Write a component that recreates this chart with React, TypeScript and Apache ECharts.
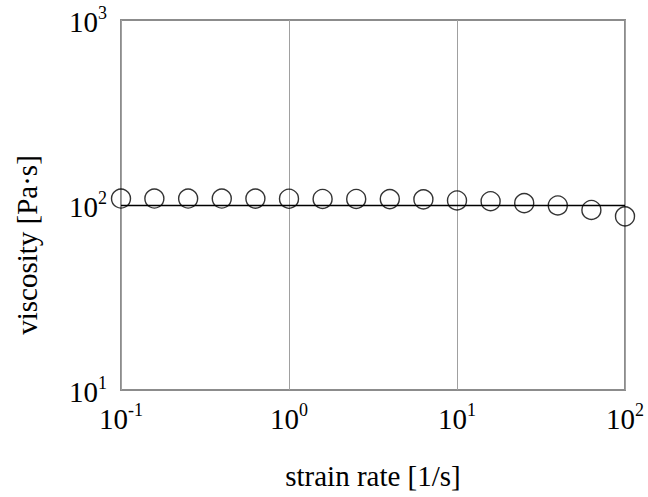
import React, { useEffect, useRef } from "react";
import * as echarts from "echarts";

// strain rate [1/s], five points per decade
const strainRate = [
  0.1, 0.158, 0.251, 0.398, 0.631, 1, 1.585, 2.512, 3.981, 6.31, 10, 15.85, 25.12, 39.81, 63.1, 100,
];
// viscosity [Pa·s]
const viscosity = [
  108.4, 108.4, 108.4, 108.4, 108.3, 108.1, 107.8, 107.8, 107.6, 107.3, 105.8, 104.8, 102.3, 99.4, 94.0, 86.8,
];
// reference level drawn across the plot
const referenceLevel = 100;

const xTitle = "strain rate [1/s]";
const yTitle = "viscosity [Pa·s]";

const FONT = "'Liberation Serif', 'Times New Roman', serif";

const powerLabel = (v: number) => {
  const e = Math.round(Math.log10(v));
  return `{b|10}{s|${e}}`;
};

const labelRich = {
  b: { fontSize: 29, fontFamily: FONT, color: "#000", lineHeight: 32, verticalAlign: "bottom" as const },
  s: { fontSize: 18, fontFamily: FONT, color: "#000", lineHeight: 32, verticalAlign: "top" as const },
};

export default function App() {
  const ref = useRef<HTMLDivElement>(null);

  useEffect(() => {
    if (!ref.current) return;
    const chart = echarts.init(ref.current, undefined, { renderer: "svg" });
    chart.setOption({
      animation: false,
      backgroundColor: "#fff",
      grid: {
        left: 121,
        right: 23,
        top: 20,
        bottom: 107,
        show: true,
        borderColor: "#8c8c8c",
        borderWidth: 2,
        backgroundColor: "transparent",
      },
      xAxis: {
        type: "log",
        logBase: 10,
        min: 0.1,
        max: 100,
        name: xTitle,
        nameLocation: "middle",
        nameGap: 71,
        nameTextStyle: { fontSize: 29, fontFamily: FONT, color: "#000" },
        axisLine: { show: false },
        axisTick: { show: false },
        minorTick: { show: false },
        splitLine: { show: true, lineStyle: { color: "#a0a0a0", width: 1 } },
        axisLabel: {
          margin: 11,
          formatter: powerLabel,
          rich: labelRich,
        },
      },
      yAxis: {
        type: "log",
        logBase: 10,
        min: 10,
        max: 1000,
        axisLine: { show: false },
        axisTick: { show: false },
        splitLine: { show: false },
        axisLabel: {
          margin: 14,
          formatter: powerLabel,
          rich: labelRich,
        },
      },
      graphic: [
        {
          type: "text",
          x: 27,
          y: 245,
          rotation: Math.PI / 2,
          style: {
            text: yTitle,
            fontSize: 29,
            fontFamily: FONT,
            fill: "#000",
            textAlign: "center",
            textVerticalAlign: "middle",
          },
        },
      ],
      series: [
        {
          type: "scatter",
          data: strainRate.map((x, i) => [x, viscosity[i]]),
          symbol: "circle",
          symbolSize: 19,
          itemStyle: { color: "none", borderColor: "#000", borderWidth: 1.4 },
          markLine: {
            silent: true,
            symbol: ["none", "none"],
            label: { show: false },
            lineStyle: { color: "#000", width: 1.4, type: "solid" },
            data: [{ yAxis: referenceLevel }],
          },
        },
      ],
    });
    return () => chart.dispose();
  }, []);

  return <div ref={ref} style={{ position: "fixed", left: 0, top: 0, width: 648, height: 497 }} />;
}
